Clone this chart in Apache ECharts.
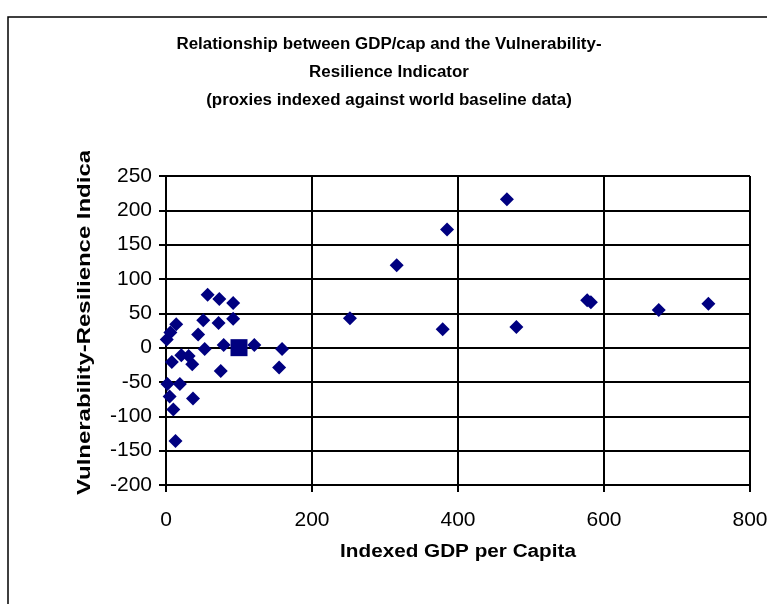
<!DOCTYPE html>
<html>
<head>
<meta charset="utf-8">
<script src="https://cdn.jsdelivr.net/npm/echarts@6/dist/echarts.min.js"></script>
<style>html,body{margin:0;padding:0;background:#fff;}#c{width:767px;height:604px;}</style>
</head>
<body>
<div id="c"></div>
<script>
const titleLines = [
  "Relationship between GDP/cap and the Vulnerability-",
  "Resilience Indicator",
  "(proxies indexed against world baseline data)"
];
const xAxisTitle = "Indexed GDP per Capita";
const yAxisTitle = "Vulnerability-Resilience Indicator";

const gdpIndex = [467, 385, 316, 577, 582, 675, 743, 252, 379, 480,
  57, 73, 92, 51, 72, 92, 14, 6, 1, 44,
  53, 79, 121, 159, 8, 21, 31, 36, 75, 155,
  2, 19, 5, 37, 10, 13];
const vriValue = [216, 172, 120, 69, 66, 55, 64, 43, 27, 30,
  77, 71, 65, 40, 36, 42, 34, 22, 12, 19,
  -2, 4, 4, -2, -21, -11, -12, -24, -34, -29,
  -53, -53, -71, -74, -90, -136];
const baselineX = [100];
const baselineY = [0];

const xTicks = {min: 0, max: 800, interval: 200};
const yTicks = {min: -200, max: 250, interval: 50};

const font = "Liberation Sans, Arial, sans-serif";
const chart = echarts.init(document.getElementById('c'), null, {renderer: 'canvas'});

const graphics = [
  {type: 'rect', z: 0, shape: {x: 8, y: 17, width: 900, height: 800},
   style: {fill: 'none', stroke: '#000', lineWidth: 1.5}},
  {type: 'text', z: 10, x: 85, y: 495, rotation: Math.PI / 2, scaleX: 1.33,
   style: {text: yAxisTitle, font: "bold 18px " + font, fill: '#000',
           textAlign: 'left', textVerticalAlign: 'middle'}},
  {type: 'rect', z: 20, shape: {x: 66, y: 110, width: 40, height: 41},
   style: {fill: '#fff'}}
];
titleLines.forEach((t, i) => {
  graphics.push({type: 'text', z: 10, x: 389, y: 45 + i * 28, scaleX: 1.057,
    style: {text: t, font: "bold 16px " + font, fill: '#000',
            textAlign: 'center', textVerticalAlign: 'middle'}});
});
graphics.push({type: 'text', z: 10, x: 458, y: 552, scaleX: 1.15,
  style: {text: xAxisTitle, font: "bold 18px " + font, fill: '#000',
          textAlign: 'center', textVerticalAlign: 'middle'}});

chart.setOption({
  animation: false,
  backgroundColor: '#fff',
  grid: {left: 166, right: 17, top: 176, bottom: 119, containLabel: false, outerBoundsMode: 'none'},
  xAxis: {
    type: 'value', min: xTicks.min, max: xTicks.max, interval: xTicks.interval,
    axisLine: {show: true, onZero: false, lineStyle: {color: '#000', width: 2}},
    axisTick: {show: true, inside: false, length: 7, lineStyle: {color: '#000', width: 2}},
    axisLabel: {color: '#000', fontSize: 21, fontFamily: font, margin: 25, showMaxLabel: true, hideOverlap: false},
    splitLine: {show: true, lineStyle: {color: '#000', width: 2}}
  },
  yAxis: {
    type: 'value', min: yTicks.min, max: yTicks.max, interval: yTicks.interval,
    axisLine: {show: true, onZero: false, lineStyle: {color: '#000', width: 2}},
    axisTick: {show: true, inside: false, length: 7, lineStyle: {color: '#000', width: 2}},
    axisLabel: {color: '#000', fontSize: 21, fontFamily: font, margin: 14},
    splitLine: {show: true, lineStyle: {color: '#000', width: 2}}
  },
  graphic: graphics,
  series: [
    {type: 'scatter', symbol: 'diamond', symbolSize: 14,
     itemStyle: {color: '#000080', opacity: 1},
     data: gdpIndex.map((x, i) => [x, vriValue[i]])},
    {type: 'scatter', symbol: 'rect', symbolSize: 17,
     itemStyle: {color: '#000080', opacity: 1},
     data: baselineX.map((x, i) => [x, baselineY[i]])}
  ]
});
</script>
</body>
</html>
